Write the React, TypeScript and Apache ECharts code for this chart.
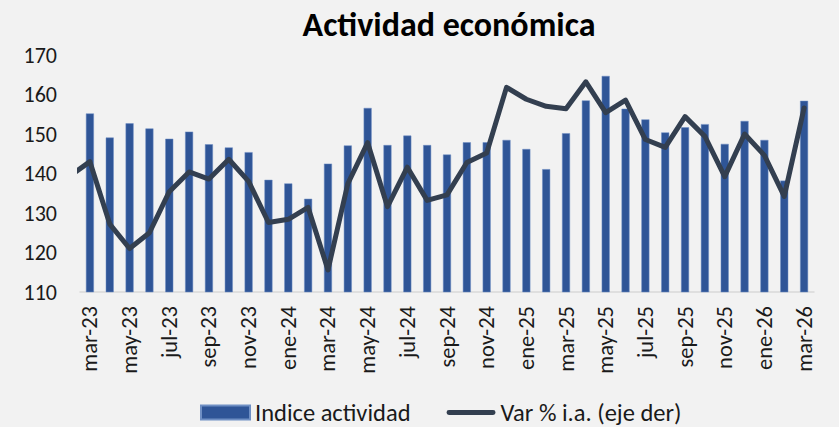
import React, { useEffect, useRef } from "react";
import * as echarts from "echarts";

const categories = [
  "mar-23", "abr-23", "may-23", "jun-23", "jul-23", "ago-23", "sep-23", "oct-23", "nov-23", "dic-23",
  "ene-24", "feb-24", "mar-24", "abr-24", "may-24", "jun-24", "jul-24", "ago-24", "sep-24", "oct-24",
  "nov-24", "dic-24", "ene-25", "feb-25", "mar-25", "abr-25", "may-25", "jun-25", "jul-25", "ago-25",
  "sep-25", "oct-25", "nov-25", "dic-25", "ene-26", "feb-26", "mar-26",
];

const indiceActividad = [
  155.2, 149.1, 152.7, 151.4, 148.8, 150.6, 147.4, 146.6, 145.4, 138.4,
  137.5, 133.6, 142.5, 147.1, 156.6, 147.2, 149.6, 147.2, 144.8, 147.9,
  147.9, 148.5, 146.2, 141.1, 150.2, 158.5, 164.7, 156.4, 153.7, 150.4,
  151.7, 152.5, 147.5, 153.3, 148.5, 138.2, 158.4,
];

// value of the month before the first category (feb-23), only its segment edge is visible
const varPrevia = 4.7;
const varInteranual = [
  6.5, -1.4, -4.5, -2.5, 2.7, 5.2, 4.3, 6.8, 4.0, -1.2,
  -0.8, 0.7, -7.2, 3.7, 8.9, 0.8, 5.8, 1.6, 2.3, 6.4,
  7.6, 15.9, 14.4, 13.5, 13.2, 16.6, 12.7, 14.3, 9.3, 8.3,
  12.2, 9.7, 4.6, 10.0, 7.3, 2.1, 13.3,
];

const leftTicks = { min: 110, max: 170, interval: 10 };
const rightTicks = { min: -10, max: 20, interval: 5 };

const FONT = "Calibri, Carlito, 'Open Sans', sans-serif";
const LINE_ICON =
  "path://M2.5,0 L47.5,0 A2.5,2.5 0 0 1 47.5,5 L2.5,5 A2.5,2.5 0 0 1 2.5,0 Z";

export default function App() {
  const ref = useRef<HTMLDivElement>(null);
  useEffect(() => {
    if (!ref.current) return;
    const chart = echarts.init(ref.current, undefined, { renderer: "svg" });
    const lineData = [[-1, varPrevia], ...varInteranual.map((v, i) => [i, v])];
    chart.setOption({
      animation: false,
      backgroundColor: "#f2f2f2",
      textStyle: { fontFamily: FONT },
      title: {
        text: "Actividad económica",
        left: 444,
        top: 2,
        textAlign: "center",
        textStyle: { fontFamily: FONT, fontWeight: "bold", fontSize: 34, color: "#000" },
      },
      legend: {
        bottom: -3,
        left: 195,
        itemWidth: 49,
        itemHeight: 14,
        itemGap: 36,
        textStyle: { fontFamily: FONT, fontSize: 24.5, color: "#1a1a1a" },
        data: [
          { name: "Indice actividad", icon: "rect" },
          { name: "Var % i.a. (eje der)", icon: LINE_ICON },
        ],
      },
      grid: { left: 80, right: 25, top: 55, bottom: 135, containLabel: false },
      xAxis: [
        {
          type: "category",
          data: categories,
          boundaryGap: true,
          axisLine: { onZero: false, lineStyle: { color: "#d9d9d9", width: 1.5 } },
          axisTick: { interval: 1, length: 6, lineStyle: { color: "#d9d9d9", width: 1.5 } },
          axisLabel: {
            interval: 1,
            rotate: 90,
            margin: 14,
            fontFamily: FONT,
            fontSize: 22.5,
            color: "#1a1a1a",
          },
        },
        {
          type: "value",
          min: -0.5,
          max: categories.length - 0.5,
          show: false,
        },
      ],
      yAxis: [
        {
          type: "value",
          ...leftTicks,
          axisLine: { show: false },
          axisTick: { show: false },
          splitLine: { show: false },
          axisLabel: { fontFamily: FONT, fontSize: 22, color: "#1a1a1a", margin: 23 },
        },
        {
          type: "value",
          ...rightTicks,
          position: "right",
          axisLine: { show: false },
          axisTick: { show: false },
          splitLine: { show: false },
          axisLabel: { show: false },
        },
      ],
      series: [
        {
          name: "Indice actividad",
          type: "bar",
          xAxisIndex: 0,
          yAxisIndex: 0,
          data: indiceActividad,
          barWidth: 8,
          itemStyle: { color: "#2f5597", borderColor: "#6f8fc4", borderWidth: 0.5 },
        },
        {
          name: "Var % i.a. (eje der)",
          type: "line",
          xAxisIndex: 1,
          yAxisIndex: 1,
          data: lineData,
          clip: true,
          symbol: "none",
          lineStyle: { color: "#333f50", width: 5, join: "round", cap: "round" },
          itemStyle: { color: "#333f50" },
        },
      ],
    });
    return () => chart.dispose();
  }, []);
  return (
    <div
      ref={ref}
      style={{ position: "absolute", left: 0, top: 0, width: 839, height: 427 }}
    />
  );
}
